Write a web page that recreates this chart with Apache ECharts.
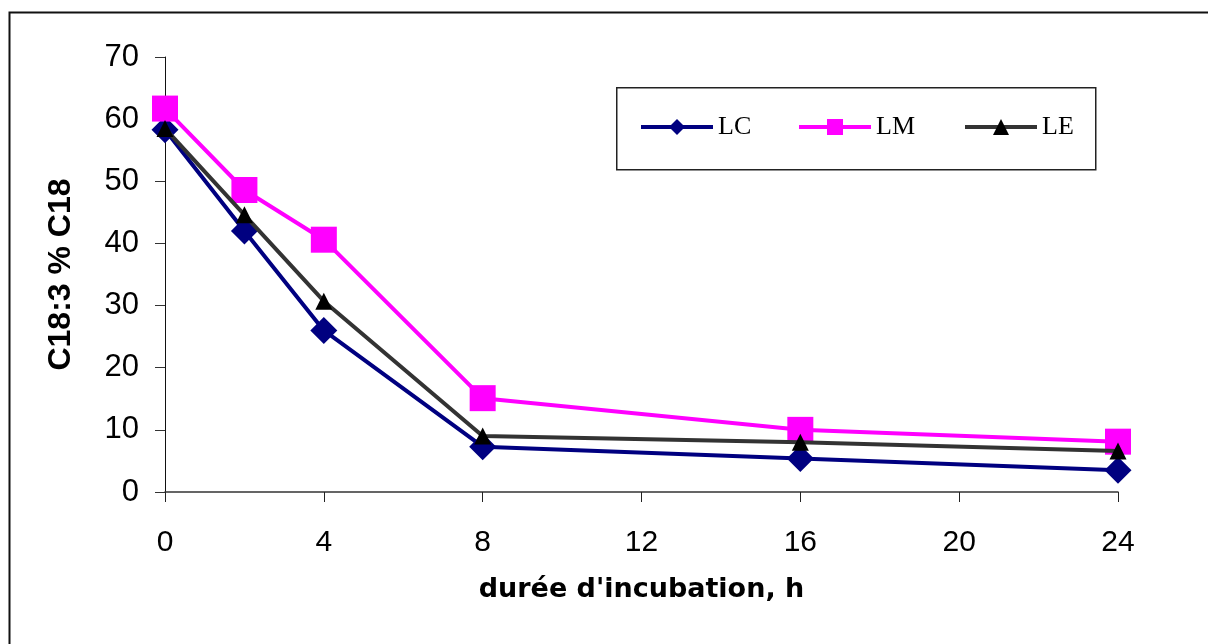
<!DOCTYPE html>
<html>
<head>
<meta charset="utf-8">
<script src="https://cdn.jsdelivr.net/npm/echarts@6/dist/echarts.min.js"></script>
<style>
html,body{margin:0;padding:0;background:#fff;}
#chart{width:1208px;height:644px;}
</style>
</head>
<body>
<div id="chart"></div>
<script>
const hours = [0, 2, 4, 8, 16, 24];
const seriesNames = ['LC', 'LM', 'LE'];
const lcValues = [58.3, 42.0, 26.0, 7.3, 5.4, 3.5];
const lmValues = [61.7, 48.6, 40.6, 15.1, 10.0, 8.1];
const leValues = [58.5, 44.6, 30.7, 9.0, 8.0, 6.6];
const xTicks = [0, 4, 8, 12, 16, 20, 24];
const yTicks = [0, 10, 20, 30, 40, 50, 60, 70];
const xTitle = "durée d'incubation, h";
const yTitle = 'C18:3 % C18';

const pair = (vals) => hours.map((h, i) => [h, vals[i]]);

const chart = echarts.init(document.getElementById('chart'), null, {renderer: 'canvas'});

const legendCommon = {
  top: 114,
  itemWidth: 72,
  itemHeight: 20,
  itemGap: 0,
  padding: 0,
  lineStyle: {width: 4},
  textStyle: {fontFamily: 'Liberation Serif', fontSize: 26, color: '#000'}
};

chart.setOption({
  animation: false,
  backgroundColor: '#fff',
  graphic: [
    {type: 'rect', left: 7, top: 10, shape: {width: 1220, height: 660},
     style: {fill: 'none', stroke: '#111', lineWidth: 2}, silent: true},
    {type: 'rect', left: 616, top: 87, shape: {width: 479, height: 82},
     style: {fill: '#fff', stroke: '#222', lineWidth: 1.5}, z: 0, silent: true}
  ],
  legend: [
    Object.assign({left: 639, data: [seriesNames[0]]}, legendCommon),
    Object.assign({left: 797, data: [seriesNames[1]]}, legendCommon),
    Object.assign({left: 963, data: [seriesNames[2]]}, legendCommon)
  ],
  grid: {left: 165, right: 90, top: 57, bottom: 152, containLabel: false},
  xAxis: {
    type: 'value', min: 0, max: 24, interval: 4,
    name: xTitle, nameLocation: 'middle', nameGap: 84,
    nameTextStyle: {fontFamily: 'DejaVu Sans', fontWeight: 'bold', fontSize: 27, color: '#000', verticalAlign: 'top'},
    axisLine: {show: true, onZero: false, lineStyle: {color: '#333', width: 1.5}},
    axisTick: {show: true, length: 10, inside: false, lineStyle: {color: '#222', width: 1}},
    axisLabel: {margin: 36, fontFamily: 'Liberation Sans', fontSize: 30, color: '#000',
      formatter: (v) => xTicks.includes(v) ? String(v) : ''},
    splitLine: {show: false}
  },
  yAxis: {
    type: 'value', min: 0, max: 70, interval: 10,
    name: yTitle, nameLocation: 'middle', nameGap: 88, nameRotate: 90,
    nameTextStyle: {fontFamily: 'Liberation Sans', fontWeight: 'bold', fontSize: 32, color: '#000'},
    axisLine: {show: true, lineStyle: {color: '#111', width: 1}},
    axisTick: {show: true, length: 10, inside: false, lineStyle: {color: '#333', width: 1}},
    axisLabel: {margin: 26, fontFamily: 'Liberation Sans', fontSize: 31, color: '#000',
      formatter: (v) => yTicks.includes(v) ? String(v) : ''},
    splitLine: {show: false}
  },
  series: [
    {name: seriesNames[0], type: 'line', data: pair(lcValues),
     symbol: 'diamond', symbolSize: 27,
     lineStyle: {color: '#000080', width: 4},
     itemStyle: {color: '#000080', borderWidth: 0}, z: 3},
    {name: seriesNames[1], type: 'line', data: pair(lmValues),
     symbol: 'rect', symbolSize: 26,
     lineStyle: {color: '#FF00FF', width: 4},
     itemStyle: {color: '#FF00FF', borderWidth: 0}, z: 4},
    {name: seriesNames[2], type: 'line', data: pair(leValues),
     symbol: 'triangle', symbolSize: 17,
     lineStyle: {color: '#333333', width: 4},
     itemStyle: {color: '#000000', borderWidth: 0}, z: 5}
  ]
});
</script>
</body>
</html>
